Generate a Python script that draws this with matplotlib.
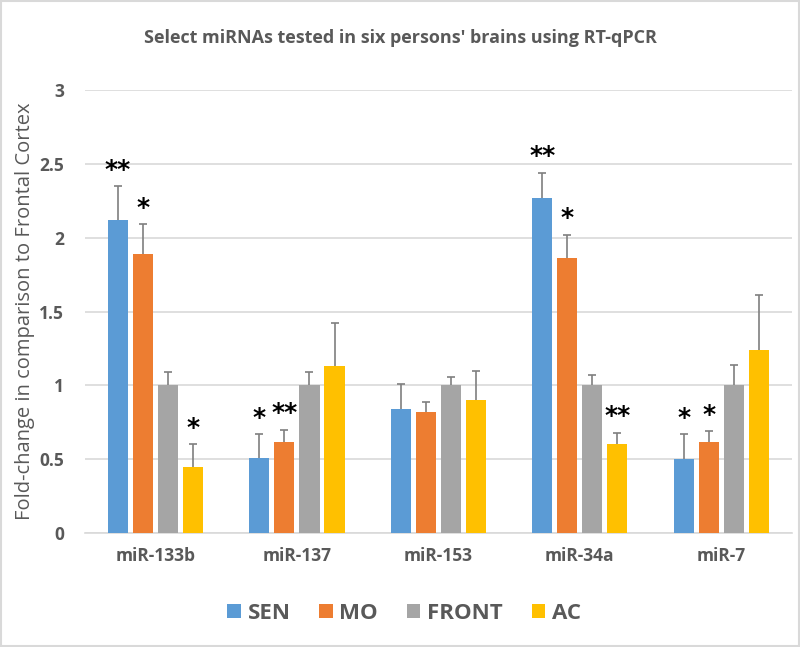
import matplotlib.pyplot as plt
import numpy as np

plt.rcParams['font.family'] = ['Open Sans', 'DejaVu Sans']

categories = ['miR-133b', 'miR-137', 'miR-153', 'miR-34a', 'miR-7']
series = ['SEN', 'MO', 'FRONT', 'AC']
colors = ['#5B9BD5', '#ED7D31', '#A5A5A5', '#FFC000']

sen = [2.12, 0.51, 0.84, 2.27, 0.50]
mo = [1.89, 0.62, 0.82, 1.86, 0.62]
front = [1.00, 1.00, 1.00, 1.00, 1.00]
ac = [0.45, 1.13, 0.90, 0.60, 1.24]

sen_err = [0.23, 0.16, 0.17, 0.17, 0.17]
mo_err = [0.20, 0.08, 0.07, 0.16, 0.07]
front_err = [0.09, 0.09, 0.06, 0.07, 0.14]
ac_err = [0.15, 0.29, 0.20, 0.08, 0.37]

sen_stars = ['**', '*', '', '**', '*']
mo_stars = ['*', '**', '', '*', '*']
front_stars = ['', '', '', '', '']
ac_stars = ['*', '', '', '**', '']

values = [sen, mo, front, ac]
errors = [sen_err, mo_err, front_err, ac_err]
stars = [sen_stars, mo_stars, front_stars, ac_stars]

grey = '#595959'
fig = plt.figure(figsize=(8, 6.47), dpi=100)
ax = fig.add_axes([0.106, 0.176, 0.884, 0.685])

x = np.arange(len(categories))
step = 0.177
width = 0.142
for i, name in enumerate(series):
    pos = x + (i - 1.5) * step
    ax.bar(pos, values[i], width, color=colors[i], label=name, zorder=3)
    eb = ax.errorbar(pos, values[i], yerr=[np.zeros(len(x)), errors[i]], fmt='none',
                     ecolor='#7F7F7F', elinewidth=1.2, capsize=3, capthick=1.2, zorder=2)
    eb[1][0].set_visible(False)  # no cap at the bar top
    for j, s in enumerate(stars[i]):
        if s:
            ax.text(pos[j], values[i][j] + errors[i][j] + 0.11, s, ha='center',
                    va='center', fontsize=18, fontweight='bold', color='black',
                    family='DejaVu Sans', zorder=5)

ax.set_xlim(-0.5, len(categories) - 0.5)
ax.set_ylim(0, 3)
ax.set_yticks([0, 0.5, 1, 1.5, 2, 2.5, 3])
ax.set_yticklabels(['0', '0.5', '1', '1.5', '2', '2.5', '3'])
ax.set_xticks(x)
ax.set_xticklabels(categories)
ax.grid(axis='y', color='#D9D9D9', linewidth=1.2, zorder=0)
for s in ['top', 'right', 'left']:
    ax.spines[s].set_visible(False)
ax.spines['bottom'].set_color('#D9D9D9')
ax.spines['bottom'].set_linewidth(1.2)
ax.tick_params(axis='both', length=0, colors=grey, labelsize=12.5)
for lab in ax.get_xticklabels() + ax.get_yticklabels():
    lab.set_fontweight('bold')
ax.tick_params(axis='x', pad=10)
ax.tick_params(axis='y', pad=15)

ax.set_ylabel('Fold-change in comparison to Frontal Cortex', fontsize=14.5, color=grey, labelpad=3)

fig.text(0.5, 0.941, "Select miRNAs tested in six persons' brains using RT-qPCR",
         ha='center', va='center', fontsize=13, fontweight='bold', color=grey)

leg = fig.legend(loc='center', bbox_to_anchor=(0.505, 0.052), ncol=4, frameon=False,
                 fontsize=16, handlelength=0.6, handleheight=0.6, handletextpad=0.3,
                 columnspacing=1.3)
for t in leg.get_texts():
    t.set_color(grey)
    t.set_fontweight('bold')

fig.patches.append(plt.Rectangle((0.001, 0.001), 0.998, 0.998, transform=fig.transFigure,
                                 fill=False, edgecolor='#D9D9D9', linewidth=1.5))

fig.savefig('out.png', dpi=100, facecolor='white')
